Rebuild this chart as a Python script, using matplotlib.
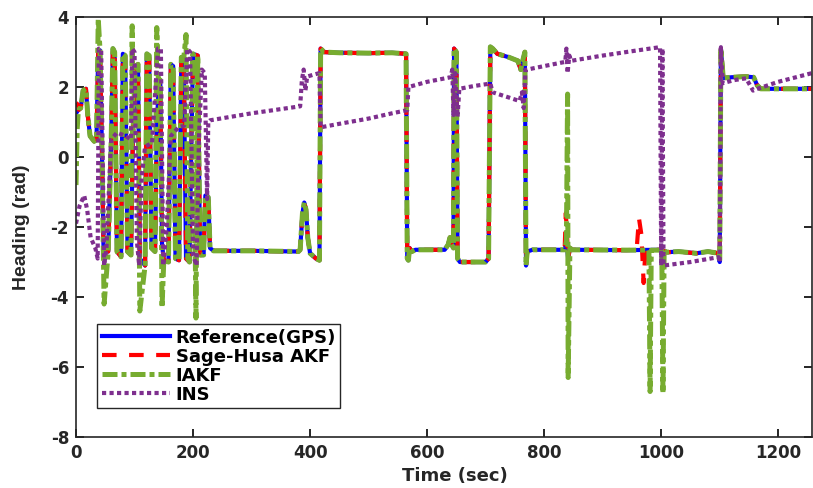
import numpy as np
import matplotlib.pyplot as plt

plt.rcParams['font.family'] = ['DejaVu Sans']
plt.rcParams['axes.unicode_minus'] = False

# Reference heading from GPS (time in s, heading in rad)
gps_t = [0, 4, 8, 12, 17, 20, 24, 31, 35, 38, 41, 44, 47, 55, 60, 63, 66, 70, 77, 80,
         84, 88, 94, 97, 101, 106, 109, 118, 121, 125, 129, 135, 138, 141, 144, 147, 150, 158, 162, 166,
         170, 176, 180, 184, 188, 194, 197, 200, 208, 212, 218, 221, 226, 229, 235, 300, 380, 383, 387, 390,
         393, 396, 400, 410, 416, 418, 424, 450, 500, 540, 564, 566, 568, 570, 574, 580, 630, 636, 639, 642,
         645, 646, 650, 652, 656, 700, 705, 708, 712, 720, 740, 755, 760, 764, 767, 769, 771, 780, 835, 838,
         841, 844, 848, 940, 1000, 1010, 1030, 1060, 1080, 1098, 1100, 1102, 1106, 1120, 1145, 1158, 1164, 1170, 1258]
gps_v = [1.25, 1.35, 1.4, 1.9, 1.95, 1.2, 0.6, 0.45, 0.5, 3.05, 3.05, 0.5, -2.6, -2.7, 0.4, 3.1, 3.0, -2.7, -2.85, 2.95,
         2.9, -2.7, -2.8, 0.5, 2.6, 2.65, -2.9, -3.1, 2.95, 2.9, -2.6, -2.7, 0.8, 2.0, 2.2, -2.5, -2.95, -3.0, 2.65, 2.6,
         -2.9, -2.95, 2.85, 2.8, -2.9, -3.0, 0.3, 2.95, 2.9, -2.8, -2.8, -1.1, -1.15, -2.6, -2.68, -2.68, -2.7, -2.65, -1.6, -1.3,
         -1.5, -2.3, -2.75, -2.9, -2.95, 3.1, 3.0, 2.98, 2.97, 2.98, 2.95, -2.9, -2.95, -2.6, -2.7, -2.65, -2.65, -2.5, -2.3, -2.5,
         -2.6, 3.1, 3.0, -2.9, -3.0, -3.0, -2.9, 3.15, 3.1, 2.95, 2.85, 2.75, 2.5, 2.8, 3.0, -3.1, -2.7, -2.65, -2.65, -2.4,
         -2.9, -2.6, -2.65, -2.66, -2.65, -2.72, -2.7, -2.75, -2.7, -2.75, -3.0, 3.1, 2.26, 2.28, 2.3, 2.28, 2.05, 1.95, 1.95]

# Sage-Husa AKF estimate
akf_t = [0, 3, 5, 8, 12, 17, 20, 24, 31, 35, 38, 41, 44, 47, 55, 60, 63, 66, 70, 77, 80,
         84, 88, 94, 97, 101, 106, 109, 118, 121, 125, 129, 135, 138, 141, 144, 147, 150, 158, 162, 166,
         170, 176, 180, 184, 188, 194, 197, 200, 208, 212, 218, 221, 226, 229, 235, 300, 380, 383, 387, 390,
         393, 396, 400, 410, 416, 418, 424, 450, 500, 540, 564, 566, 568, 570, 574, 580, 630, 636, 639, 642,
         645, 646, 650, 652, 656, 700, 705, 708, 712, 720, 740, 755, 760, 764, 767, 769, 771, 780, 835, 837,
         839, 841, 844, 848, 940, 958, 962, 966, 970, 973, 1000, 1010, 1030, 1060, 1080, 1098, 1100, 1102, 1106,
         1120, 1145, 1158, 1164, 1170, 1258]
akf_v = [1.55, 1.5, 1.35, 1.4, 1.9, 1.95, 1.2, 0.6, 0.45, 0.5, 3.05, 3.05, 0.5, -2.6, -2.7, 0.4, 3.1, 3.0, -2.7, -2.85, 2.95,
         2.9, -2.7, -2.8, 0.5, 2.6, 2.65, -2.9, -3.1, 2.95, 2.9, -2.6, -2.7, 0.8, 2.0, 2.2, -2.5, -2.95, -3.0, 2.65, 2.6,
         -2.9, -2.95, 2.85, 2.8, -2.9, -3.0, 0.3, 2.95, 2.9, -2.8, -2.8, -1.1, -1.15, -2.6, -2.68, -2.68, -2.7, -2.65, -1.6, -1.3,
         -1.5, -2.3, -2.75, -2.9, -2.95, 3.1, 3.0, 2.98, 2.97, 2.98, 2.95, -2.9, -2.95, -2.6, -2.7, -2.65, -2.65, -2.5, -2.3, -2.5,
         -2.6, 3.1, 3.0, -2.9, -3.0, -3.0, -2.9, 3.15, 3.1, 2.95, 2.85, 2.75, 2.5, 2.8, 3.0, -3.1, -2.7, -2.65, -2.65, -1.6,
         -2.2, -2.9, -2.6, -2.65, -2.66, -2.65, -1.75, -2.2, -3.6, -2.65, -2.65, -2.72, -2.7, -2.75, -2.7, -2.75, -3.0, 3.1, 2.26,
         2.28, 2.3, 2.28, 2.05, 1.95, 1.95]

# Improved AKF estimate
iakf_t = [0, 2, 4, 8, 12, 17, 20, 24, 31, 35, 38, 41, 44, 48, 55, 60, 63, 66, 70, 77, 80,
          84, 88, 94, 96, 97, 101, 106, 109, 118, 121, 125, 129, 135, 138, 141, 144, 147, 150, 158, 162, 166,
          170, 176, 180, 184, 188, 191, 194, 197, 200, 205, 208, 212, 218, 221, 226, 229, 235, 300, 380, 383, 387, 390,
          393, 396, 400, 410, 416, 418, 424, 450, 500, 540, 564, 566, 568, 570, 574, 580, 630, 636, 639, 642,
          645, 646, 650, 652, 656, 700, 705, 708, 712, 720, 740, 755, 760, 764, 767, 769, 771, 780, 835, 838,
          840, 841, 844, 848, 940, 979, 981, 983, 1001, 1003, 1005, 1010, 1030, 1060, 1080, 1098, 1100, 1102, 1106,
          1120, 1145, 1158, 1164, 1170, 1258]
iakf_v = [-0.8, 0.8, 1.35, 1.4, 1.9, 1.95, 1.2, 0.6, 0.45, 0.5, 3.95, 3.05, 0.5, -4.2, -2.7, 0.4, 3.1, 3.0, -2.7, -2.85, 2.95,
          2.9, -2.7, -2.8, 3.75, 0.5, 2.6, 2.65, -4.4, -3.1, 2.95, 2.9, -2.6, -2.7, 3.7, 2.0, 2.2, -4.3, -2.95, -3.0, 2.65, 2.6,
          -2.9, -2.95, 2.85, 2.8, 3.5, -2.9, -3.0, 0.3, 2.95, -4.6, 2.9, -2.8, -2.8, -1.1, -1.15, -2.6, -2.68, -2.68, -2.7, -2.65, -1.6, -1.3,
          -1.5, -2.3, -2.75, -2.9, -2.95, 3.1, 3.0, 2.98, 2.97, 2.98, 2.95, -2.9, -2.95, -2.6, -2.7, -2.65, -2.65, -2.5, -2.3, -2.5,
          -2.6, 3.1, 3.0, -2.9, -3.0, -3.0, -2.9, 3.15, 3.1, 2.95, 2.85, 2.75, 2.5, 2.8, 3.0, -3.1, -2.7, -2.65, -2.65, -2.4,
          1.8, -6.3, -2.6, -2.65, -2.66, -2.66, -6.7, -2.66, -2.66, -6.75, -2.68, -2.72, -2.7, -2.75, -2.7, -2.75, -3.0, 3.1, 2.26,
          2.28, 2.3, 2.28, 2.05, 1.95, 1.95]

# Pure INS heading (wraps at +/- pi)
ins_t = [0, 6, 14, 19, 25, 33, 37, 39, 43, 46, 48, 52, 60, 70, 85, 94, 96, 100, 104, 108,
         112, 118, 130, 140, 145, 149, 155, 162, 175, 185, 190, 195, 200, 206, 210, 215, 220, 224, 226, 229,
         300, 383, 386, 389, 392, 395, 405, 416, 418, 450, 500, 540, 566, 568, 600, 640, 643, 645, 648, 652,
         655, 680, 708, 712, 740, 758, 762, 765, 768, 800, 836, 838, 840, 843, 846, 900, 960, 998, 1000, 1002,
         1004, 1050, 1098, 1100, 1102, 1105, 1125, 1145, 1157, 1168, 1200, 1258]
ins_v = [-1.9, -1.4, -1.1, -1.5, -2.3, -2.6, -2.9, 3.1, 3.05, -0.5, -3.1, -2.6, 0.5, 0.7, 0.6, 0.5, 3.1, 3.0, -2.4, -3.1,
         -0.6, 0.3, 0.4, 3.1, 3.1, -3.1, -2.0, 0.6, 0.85, 0.9, 3.1, 3.0, -2.8, -3.1, 0.5, 2.5, 2.4, -1.2, 1.0, 1.05,
         1.25, 1.45, 2.2, 2.5, 1.9, 2.3, 2.35, 2.4, 0.85, 0.95, 1.1, 1.25, 1.34, 2.0, 2.15, 2.28, 2.5, 1.2, 2.4, 1.15,
         1.95, 2.03, 2.1, 1.85, 1.7, 1.6, 1.85, 1.4, 2.49, 2.6, 2.72, 3.1, 2.4, 2.9, 2.75, 2.9, 3.05, 3.14, -3.1, 3.1,
         -3.1, -3.0, -2.86, -3.0, 3.14, 2.11, 2.2, 2.25, 1.9, 1.97, 2.15, 2.4]

fig = plt.figure(figsize=(8.13, 4.88), dpi=100)
ax = fig.add_axes([0.0935, 0.1045, 0.9055, 0.8605])

ax.plot(gps_t, gps_v, color='#0000FF', lw=3, label='Reference(GPS)')
ax.plot(akf_t, akf_v, color='#FF0000', lw=3, dashes=(3.5, 3), label='Sage-Husa AKF')
ax.plot(iakf_t, iakf_v, color='#77AC30', lw=3.6, dashes=(3, 0.8, 1, 0.8), label='IAKF')
ax.plot(ins_t, ins_v, color='#7E2F8E', lw=3, dashes=(1, 0.8), label='INS')

ax.set_xlim(0, 1258)
ax.set_ylim(-8, 4)
ax.set_xticks(np.arange(0, 1201, 200))
ax.set_yticks(np.arange(-8, 5, 2))
ax.tick_params(direction='in', length=6, width=1.2, top=True, right=True, labelsize=12, pad=5)
for lbl in ax.get_xticklabels() + ax.get_yticklabels():
    lbl.set_fontweight('bold')
    lbl.set_color('#262626')
for s in ax.spines.values():
    s.set_linewidth(1.2)
    s.set_color('#262626')

ax.set_xlabel('Time (sec)', fontsize=13, fontweight='bold', color='#262626')
ax.xaxis.set_label_coords(0.515, -0.072)
ax.set_ylabel('Heading (rad)', fontsize=14, fontweight='bold', color='#262626',
              family=['Liberation Sans', 'DejaVu Sans'])
ax.yaxis.set_label_coords(-0.062, 0.5)

leg = ax.legend(loc='lower left', bbox_to_anchor=(0.0285, 0.069), borderaxespad=0,
                prop={'weight': 'bold', 'size': 13}, handlelength=3.8, handletextpad=0.3,
                labelspacing=0.05, borderpad=0.25, fancybox=False, framealpha=1)
leg.get_frame().set_edgecolor('#262626')
leg.get_frame().set_linewidth(1.0)

fig.savefig('out.png', dpi=100)
